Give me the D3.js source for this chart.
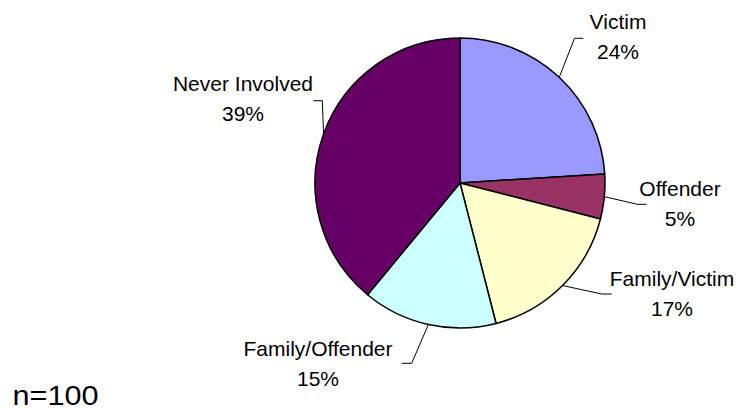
<!DOCTYPE html>
<html>
<head>
<meta charset="utf-8">
<script src="https://cdn.jsdelivr.net/npm/d3@7"></script>
<style>
  html, body { margin: 0; padding: 0; background: #fff; }
  svg { display: block; }
  text { font-family: "Liberation Sans", Arial, sans-serif; fill: #000; }
</style>
</head>
<body>
<svg id="chart" width="756" height="410"></svg>
<script>
// ---- data ----
const categories = ["Victim", "Offender", "Family/Victim", "Family/Offender", "Never Involved"];
const values = [24, 5, 17, 15, 39];
const percentLabels = ["24%", "5%", "17%", "15%", "39%"];
const colors = ["#9999FF", "#993366", "#FFFFCC", "#CCFFFF", "#660066"];
const sampleNote = "n=100";

// ---- layout ----
const W = 756, H = 410;
const cx = 460, cy = 183, R = 145;
// label layout: elbow point, horizontal tail end, label centre & first baseline
const labelLayout = [
  { elbow: [574.5, 38.3], tail: 583.3, tx: 618, ty: 29.3 },
  { elbow: [637.3, 204.3], tail: 646.7, tx: 680, ty: 196 },
  { elbow: [601.7, 294], tail: 611.7, tx: 672, ty: 286 },
  { elbow: [411.7, 363.3], tail: 401.7, tx: 318, ty: 356 },
  { elbow: [322.3, 100.7], tail: 313.3, tx: 243, ty: 91 }
];
const lineGap = 29.5;
const fontSize = 21;

const svg = d3.select("#chart");

const pie = d3.pie().sort(null).value(d => d.value).startAngle(0).endAngle(2 * Math.PI);
const data = categories.map((c, i) => ({ name: c, value: values[i], pct: percentLabels[i], color: colors[i], layout: labelLayout[i] }));
const arcs = pie(data);

const arc = d3.arc().innerRadius(0).outerRadius(R);

const g = svg.append("g").attr("transform", `translate(${cx},${cy})`);

g.selectAll("path.slice")
  .data(arcs)
  .join("path")
  .attr("class", "slice")
  .attr("d", arc)
  .attr("fill", d => d.data.color)
  .attr("stroke", "#000")
  .attr("stroke-width", 1.5)
  .attr("stroke-linejoin", "round");

// leader lines and labels
arcs.forEach(a => {
  const mid = (a.startAngle + a.endAngle) / 2;
  const ex = cx + R * Math.sin(mid);
  const ey = cy - R * Math.cos(mid);
  const L = a.data.layout;
  svg.append("polyline")
    .attr("points", [[ex, ey], L.elbow, [L.tail, L.elbow[1]]].map(p => p.join(",")).join(" "))
    .attr("fill", "none")
    .attr("stroke", "#000")
    .attr("stroke-width", 1);

  const t = svg.append("text")
    .attr("text-anchor", "middle")
    .attr("font-size", fontSize);
  t.append("tspan").attr("x", L.tx).attr("y", L.ty).text(a.data.name);
  t.append("tspan").attr("x", L.tx).attr("y", L.ty + lineGap).text(a.data.pct);
});

svg.append("text")
  .attr("x", 12.5)
  .attr("y", 405)
  .attr("font-size", 27)
  .attr("textLength", 86)
  .attr("lengthAdjust", "spacingAndGlyphs")
  .text(sampleNote);
</script>
</body>
</html>
